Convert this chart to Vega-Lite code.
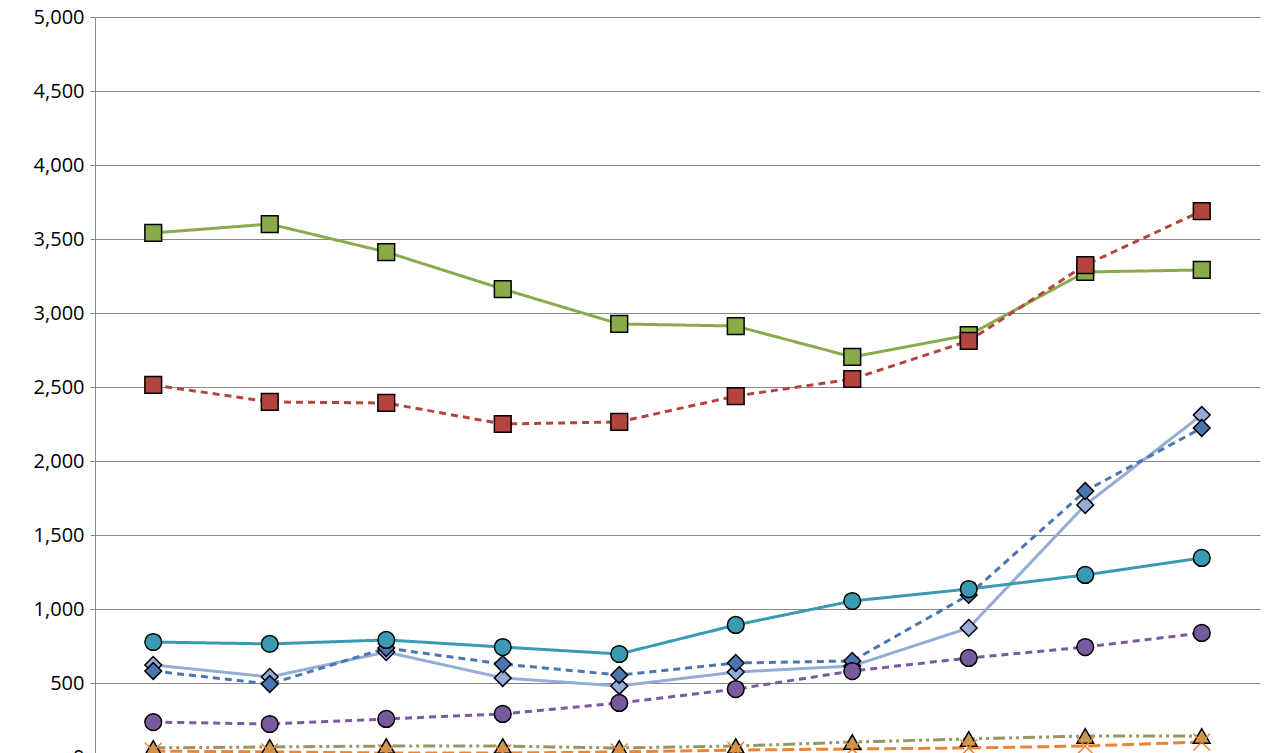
{
  "$schema": "https://vega.github.io/schema/vega-lite/v6.json",
  "width": 1165,
  "height": 740,
  "autosize": "none",
  "padding": {"top": 17, "left": 95, "right": 9, "bottom": 0},
  "background": "white",
  "config": {"view": {"stroke": null}},
  "data": {"values": [
    {"s":"A","x":1,"v":3541},{"s":"A","x":2,"v":3601},{"s":"A","x":3,"v":3412},{"s":"A","x":4,"v":3162},{"s":"A","x":5,"v":2926},{"s":"A","x":6,"v":2912},{"s":"A","x":7,"v":2703},{"s":"A","x":8,"v":2851},{"s":"A","x":9,"v":3277},{"s":"A","x":10,"v":3291},
    {"s":"B","x":1,"v":2514},{"s":"B","x":2,"v":2399},{"s":"B","x":3,"v":2392},{"s":"B","x":4,"v":2250},{"s":"B","x":5,"v":2264},{"s":"B","x":6,"v":2439},{"s":"B","x":7,"v":2554},{"s":"B","x":8,"v":2811},{"s":"B","x":9,"v":3324},{"s":"B","x":10,"v":3689},
    {"s":"C","x":1,"v":622},{"s":"C","x":2,"v":541},{"s":"C","x":3,"v":709},{"s":"C","x":4,"v":534},{"s":"C","x":5,"v":480},{"s":"C","x":6,"v":574},{"s":"C","x":7,"v":615},{"s":"C","x":8,"v":872},{"s":"C","x":9,"v":1703},{"s":"C","x":10,"v":2311},
    {"s":"D","x":1,"v":581},{"s":"D","x":2,"v":493},{"s":"D","x":3,"v":736},{"s":"D","x":4,"v":628},{"s":"D","x":5,"v":554},{"s":"D","x":6,"v":635},{"s":"D","x":7,"v":649},{"s":"D","x":8,"v":1095},{"s":"D","x":9,"v":1797},{"s":"D","x":10,"v":2223},
    {"s":"E","x":1,"v":777},{"s":"E","x":2,"v":764},{"s":"E","x":3,"v":791},{"s":"E","x":4,"v":743},{"s":"E","x":5,"v":696},{"s":"E","x":6,"v":892},{"s":"E","x":7,"v":1054},{"s":"E","x":8,"v":1135},{"s":"E","x":9,"v":1230},{"s":"E","x":10,"v":1345},
    {"s":"F","x":1,"v":236},{"s":"F","x":2,"v":223},{"s":"F","x":3,"v":257},{"s":"F","x":4,"v":291},{"s":"F","x":5,"v":365},{"s":"F","x":6,"v":459},{"s":"F","x":7,"v":581},{"s":"F","x":8,"v":669},{"s":"F","x":9,"v":743},{"s":"F","x":10,"v":838},
    {"s":"G","x":1,"v":61},{"s":"G","x":2,"v":68},{"s":"G","x":3,"v":74},{"s":"G","x":4,"v":74},{"s":"G","x":5,"v":61},{"s":"G","x":6,"v":74},{"s":"G","x":7,"v":101},{"s":"G","x":8,"v":122},{"s":"G","x":9,"v":142},{"s":"G","x":10,"v":142},
    {"s":"H","x":1,"v":40},{"s":"H","x":2,"v":34},{"s":"H","x":3,"v":27},{"s":"H","x":4,"v":27},{"s":"H","x":5,"v":34},{"s":"H","x":6,"v":47},{"s":"H","x":7,"v":54},{"s":"H","x":8,"v":61},{"s":"H","x":9,"v":74},{"s":"H","x":10,"v":101}
  ]},
  "encoding": {
    "x": {"field": "x", "type": "ordinal", "axis": null, "scale": {"paddingInner": 0, "paddingOuter": 0}},
    "y": {"field": "v", "type": "quantitative", "scale": {"domain": [0, 5000]},
      "axis": {"title": null, "values": [0,500,1000,1500,2000,2500,3000,3500,4000,4500,5000], "format": ",d", "labelFont": "Open Sans", "labelFontSize": 20, "labelColor": "#000", "gridColor": "#888", "domainColor": "#888", "ticks": true, "tickColor": "#888", "labelPadding": 6}}
  },
  "layer": [
    {
      "mark": {"type": "line", "strokeWidth": 3},
      "encoding": {
        "color": {"field": "s", "type": "nominal", "legend": null,
          "scale": {"domain": ["A","B","C","D","E","F","G","H"], "range": ["#8aab4a","#b5443f","#95acd6","#4a76b2","#3a9ab1","#7a5a9e","#9a9466","#e98535"]}},
        "strokeDash": {"field": "s", "type": "nominal", "legend": null,
          "scale": {"domain": ["A","B","C","D","E","F","G","H"], "range": [[1,0],[7,5],[1,0],[7,5],[1,0],[7,5],[12,4,3,4,3,4],[12,5]]}}
      }
    },
    {
      "mark": {"type": "point", "filled": true, "strokeWidth": 1.5, "size": 280, "opacity": 1},
      "encoding": {
        "fill": {"field": "s", "type": "nominal", "legend": null,
          "scale": {"domain": ["A","B","C","D","E","F","G","H"], "range": ["#8aab4a","#b5443f","#95acd6","#4a76b2","#3a9ab1","#7a5a9e","#c89a50","#e98535"]}},
        "stroke": {"field": "s", "type": "nominal", "legend": null,
          "scale": {"domain": ["A","B","C","D","E","F","G","H"], "range": ["#000","#000","#000","#000","#000","#000","#000","#e98535"]}},
        "shape": {"field": "s", "type": "nominal", "legend": null,
          "scale": {"domain": ["A","B","C","D","E","F","G","H"], "range": ["square","square","diamond","diamond","circle","circle","triangle-up","M-1,-1L1,1M-1,1L1,-1"]}}
      }
    }
  ]
}
